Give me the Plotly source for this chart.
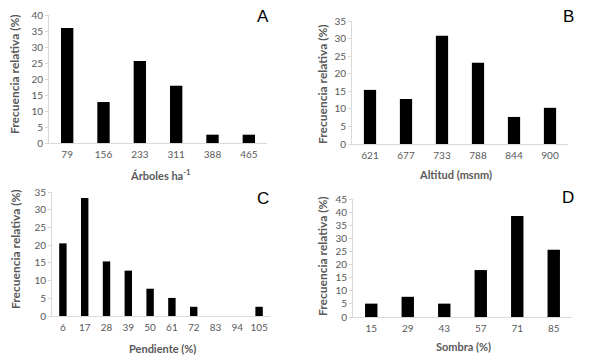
import plotly.graph_objects as go

# Data
cat_a = ["79", "156", "233", "311", "388", "465"]
val_a = [35.9, 12.8, 25.6, 17.9, 2.6, 2.6]
cat_b = ["621", "677", "733", "788", "844", "900"]
val_b = [15.4, 12.8, 30.8, 23.1, 7.7, 10.3]
cat_c = ["6", "17", "28", "39", "50", "61", "72", "83", "94", "105"]
val_c = [20.5, 33.3, 15.4, 12.8, 7.7, 5.1, 2.6, 0, 0, 2.6]
cat_d = ["15", "29", "43", "57", "71", "85"]
val_d = [5.1, 7.7, 5.1, 17.9, 38.5, 25.6]

ymax = [40, 35, 35, 45]
ytitle = "Frecuencia relativa (%)"
xtitles = ["Árboles ha<sup>-1</sup>", "Altitud (msnm)", "Pendiente (%)", "Sombra (%)"]
letters = ["A", "B", "C", "D"]

W, H = 590, 356
# plot areas in pixels: (left, right, top(ymax), bottom(0))
areas = [(49, 267, 15, 143), (352, 568, 21, 144), (52, 270, 192, 316), (353, 572, 199, 317)]
ytitle_pos = [(15, 74), (322, 84), (15, 249), (322, 256)]
xtitle_pos = [(160, 174), (455, 174), (163, 348), (463, 346)]
letter_pos = [(263, 16), (568, 16), (263, 198), (568, 197)]

FONT = "Lato, Open Sans, sans-serif"
GRAY = "#595959"
AXC = "#d9d9d9"

fig = go.Figure()
cats = [cat_a, cat_b, cat_c, cat_d]
vals = [val_a, val_b, val_c, val_d]
layout = dict(width=W, height=H, margin=dict(l=0, r=0, t=0, b=0, autoexpand=False),
              paper_bgcolor="white", plot_bgcolor="white", showlegend=False,
              font=dict(family=FONT, color=GRAY, size=10))
annotations = []
for i in range(4):
    xa = "x" if i == 0 else f"x{i+1}"
    ya = "y" if i == 0 else f"y{i+1}"
    fig.add_trace(go.Bar(x=cats[i], y=vals[i], marker=dict(color="black", line=dict(width=0)),
                         xaxis=xa, yaxis=ya, hoverinfo="skip"))
    l, r, t, b = areas[i]
    xk = "xaxis" if i == 0 else f"xaxis{i+1}"
    yk = "yaxis" if i == 0 else f"yaxis{i+1}"
    layout[xk] = dict(domain=[l / W, r / W], anchor=ya, type="category", automargin=False,
                      showline=True, linecolor=AXC, linewidth=1, showgrid=False,
                      ticks="", tickfont=dict(size=10, color=GRAY), ticklabelstandoff=2)
    layout[yk] = dict(domain=[1 - b / H, 1 - t / H], anchor=xa, range=[0, ymax[i]], dtick=5,
                      automargin=False,
                      showline=True, linecolor=AXC, linewidth=1, showgrid=False, zeroline=False,
                      ticks="outside", ticklen=3, tickcolor=AXC,
                      tickfont=dict(size=10, color=GRAY))
    common = dict(xref="paper", yref="paper", showarrow=False, xanchor="center", yanchor="middle")
    annotations.append(dict(text=f"<b>{ytitle}</b>", x=ytitle_pos[i][0] / W, y=1 - ytitle_pos[i][1] / H,
                            textangle=-90, font=dict(size=12, color=GRAY, family=FONT), **common))
    annotations.append(dict(text=f"<b>{xtitles[i]}</b>", x=xtitle_pos[i][0] / W, y=1 - xtitle_pos[i][1] / H,
                            font=dict(size=11, color=GRAY, family=FONT), **common))
    annotations.append(dict(text=letters[i], x=letter_pos[i][0] / W, y=1 - letter_pos[i][1] / H,
                            font=dict(size=17, color="black", family="Liberation Sans, Arial, sans-serif"),
                            **common))
layout["annotations"] = annotations
layout["bargap"] = 0.66
fig.update_layout(**layout)
fig.write_html("out.html", config={"displayModeBar": False},
               post_script="document.body.style.margin='0';document.body.style.overflow='hidden';")
